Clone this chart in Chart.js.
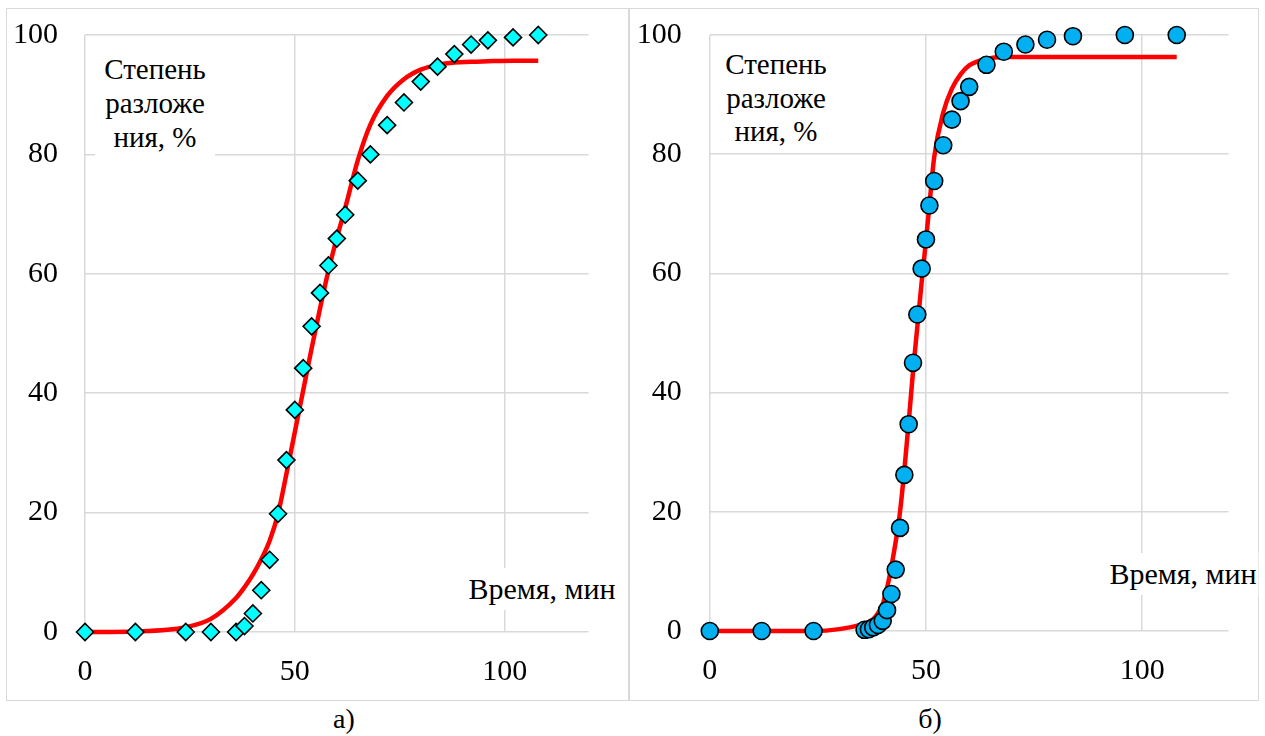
<!DOCTYPE html>
<html>
<head>
<meta charset="utf-8">
<script src="https://cdn.jsdelivr.net/npm/chart.js@4"></script>
<style>
  body { margin: 0; background: #fff; width: 1265px; height: 736px; position: relative; overflow: hidden; font-family: 'Liberation Serif', 'Times New Roman', serif; }
  .frame { position: absolute; border: 1.5px solid #d9d9d9; box-sizing: border-box; }
  .chart-box { position: absolute; }
  .label { position: absolute; background: #fff; color: #000; text-align: center; }
  .tc { transform: translate(-50%, -50%); white-space: nowrap; }
</style>
</head>
<body>
<div class="frame" style="left:6px;top:8px;width:623px;height:693px;"></div>
<div class="frame" style="left:629px;top:8px;width:630px;height:693px;"></div>

<div class="chart-box" style="left:6px;top:8px;width:622px;height:692px;"><canvas id="chartA"></canvas></div>
<div class="chart-box" style="left:630px;top:8px;width:628px;height:692px;"><canvas id="chartB"></canvas></div>

<div class="label" style="left:95px;top:52px;width:120px;font-size:29px;line-height:34px;padding-bottom:5px;">Степень<br>разложе<br>ния, %</div>
<div class="label" style="left:717px;top:48px;width:118px;font-size:29px;line-height:33.5px;">Степень<br>разложе<br>ния, %</div>
<div class="label tc" style="left:542px;top:589px;font-size:30px;line-height:42px;padding:0 2px;">Время, мин</div>
<div class="label tc" style="left:1183px;top:574px;font-size:30px;line-height:42px;padding:0 2px;">Время, мин</div>
<div class="label tc" style="left:344px;top:719px;font-size:28px;background:none;">а)</div>
<div class="label tc" style="left:930px;top:719px;font-size:28px;background:none;">б)</div>

<script>
// panel а) — diamonds
const timeA = [0, 12, 24, 30, 36, 38, 40, 42, 44, 46, 48, 50, 52, 54, 56, 58, 60, 62, 65, 68, 72, 76, 80, 84, 88, 92, 96, 102, 108];
const expA = [0, 0, 0, 0, 0, 1.0, 3.1, 7.0, 12.1, 19.8, 28.8, 37.2, 44.2, 51.2, 56.8, 61.4, 65.9, 69.9, 75.6, 80.0, 84.9, 88.7, 92.2, 94.7, 96.8, 98.4, 99.1, 99.6, 100];
const modelA = [0, 0.1, 0.8, 2.2, 5.7, 7.5, 9.6, 12.2, 15.3, 19.8, 26.5, 33.5, 40.5, 47.5, 54.2, 60.5, 66, 71, 79, 85, 89.8, 92.6, 94.2, 95, 95.4, 95.5, 95.6, 95.7, 95.7];

// panel б) — circles
const timeB = [0, 12, 24, 35.8, 36.8, 37.8, 38.9, 40, 41, 42, 43, 44, 45, 46, 47, 48, 49, 50, 50.8, 51.9, 54, 56, 58, 60, 64, 68, 73, 78, 84, 96, 108];
const expB = [0, 0, 0, 0.2, 0.3, 0.6, 1.0, 1.7, 3.5, 6.2, 10.3, 17.3, 26.2, 34.7, 45.0, 53.1, 60.8, 65.7, 71.4, 75.5, 81.5, 85.8, 88.9, 91.3, 95.0, 97.2, 98.4, 99.2, 99.8, 100, 100];
const modelB = [0, 0, 0, 1.2, 1.5, 2.0, 3.0, 4.5, 7.2, 10.8, 15, 20, 27, 35, 43.5, 51, 58.5, 65.5, 71.5, 79.5, 87, 91, 93.4, 94.9, 96.0, 96.3, 96.3, 96.3, 96.3, 96.3, 96.3];

const xTicks = [0, 50, 100];
const yTicks = [0, 20, 40, 60, 80, 100];

const toPoints = (xs, ys) => xs.map((x, i) => ({ x: x, y: ys[i] }));
const tickFont = { family: 'Liberation Serif', size: 30 };

function makeChart(id, times, exp, model, marker, fill, yAxisWidth, xAxisHeight, padRight, tickPad) {
  return new Chart(document.getElementById(id), {
    type: 'scatter',
    data: {
      datasets: [
        {
          data: toPoints(times, exp),
          pointStyle: marker,
          pointRadius: marker === 'circle' ? 8.5 : 8.5,
          pointBackgroundColor: fill,
          pointBorderColor: '#000',
          pointBorderWidth: 1.6,
          showLine: false,
          clip: false,
          order: 0
        },
        {
          data: toPoints(times, model),
          showLine: true,
          borderColor: '#ff0000',
          borderWidth: 4.5,
          pointRadius: 0,
          cubicInterpolationMode: 'monotone',
          clip: false,
          order: 1
        }
      ]
    },
    options: {
      responsive: true,
      maintainAspectRatio: false,
      animation: false,
      layout: { padding: { top: 27, right: padRight, left: 0, bottom: 0 } },
      plugins: { legend: { display: false }, tooltip: { enabled: false } },
      scales: {
        x: {
          type: 'linear',
          min: 0,
          max: 120,
          afterBuildTicks: (axis) => { axis.ticks = xTicks.map(v => ({ value: v })); },
          afterFit: (axis) => { axis.height = xAxisHeight; axis.paddingLeft = 0; axis.paddingRight = 0; },
          grid: { color: '#d9d9d9', lineWidth: 1.5, drawTicks: false },
          border: { display: false },
          ticks: { color: '#000', padding: 22, maxRotation: 0, font: tickFont }
        },
        y: {
          min: 0,
          max: 100,
          afterBuildTicks: (axis) => { axis.ticks = yTicks.map(v => ({ value: v })); },
          afterFit: (axis) => { axis.width = yAxisWidth; axis.paddingTop = 0; axis.paddingBottom = 0; },
          grid: { color: '#d9d9d9', lineWidth: 1.5, drawTicks: false },
          border: { display: false },
          ticks: { color: '#000', padding: tickPad, font: tickFont }
        }
      }
    }
  });
}

makeChart('chartA', timeA, expA, modelA, 'rectRot', '#00ffff', 79, 68, 39.4, 27);
makeChart('chartB', timeB, expB, modelB, 'circle', '#00b0f0', 79.8, 69, 29.4, 28);
</script>
</body>
</html>
